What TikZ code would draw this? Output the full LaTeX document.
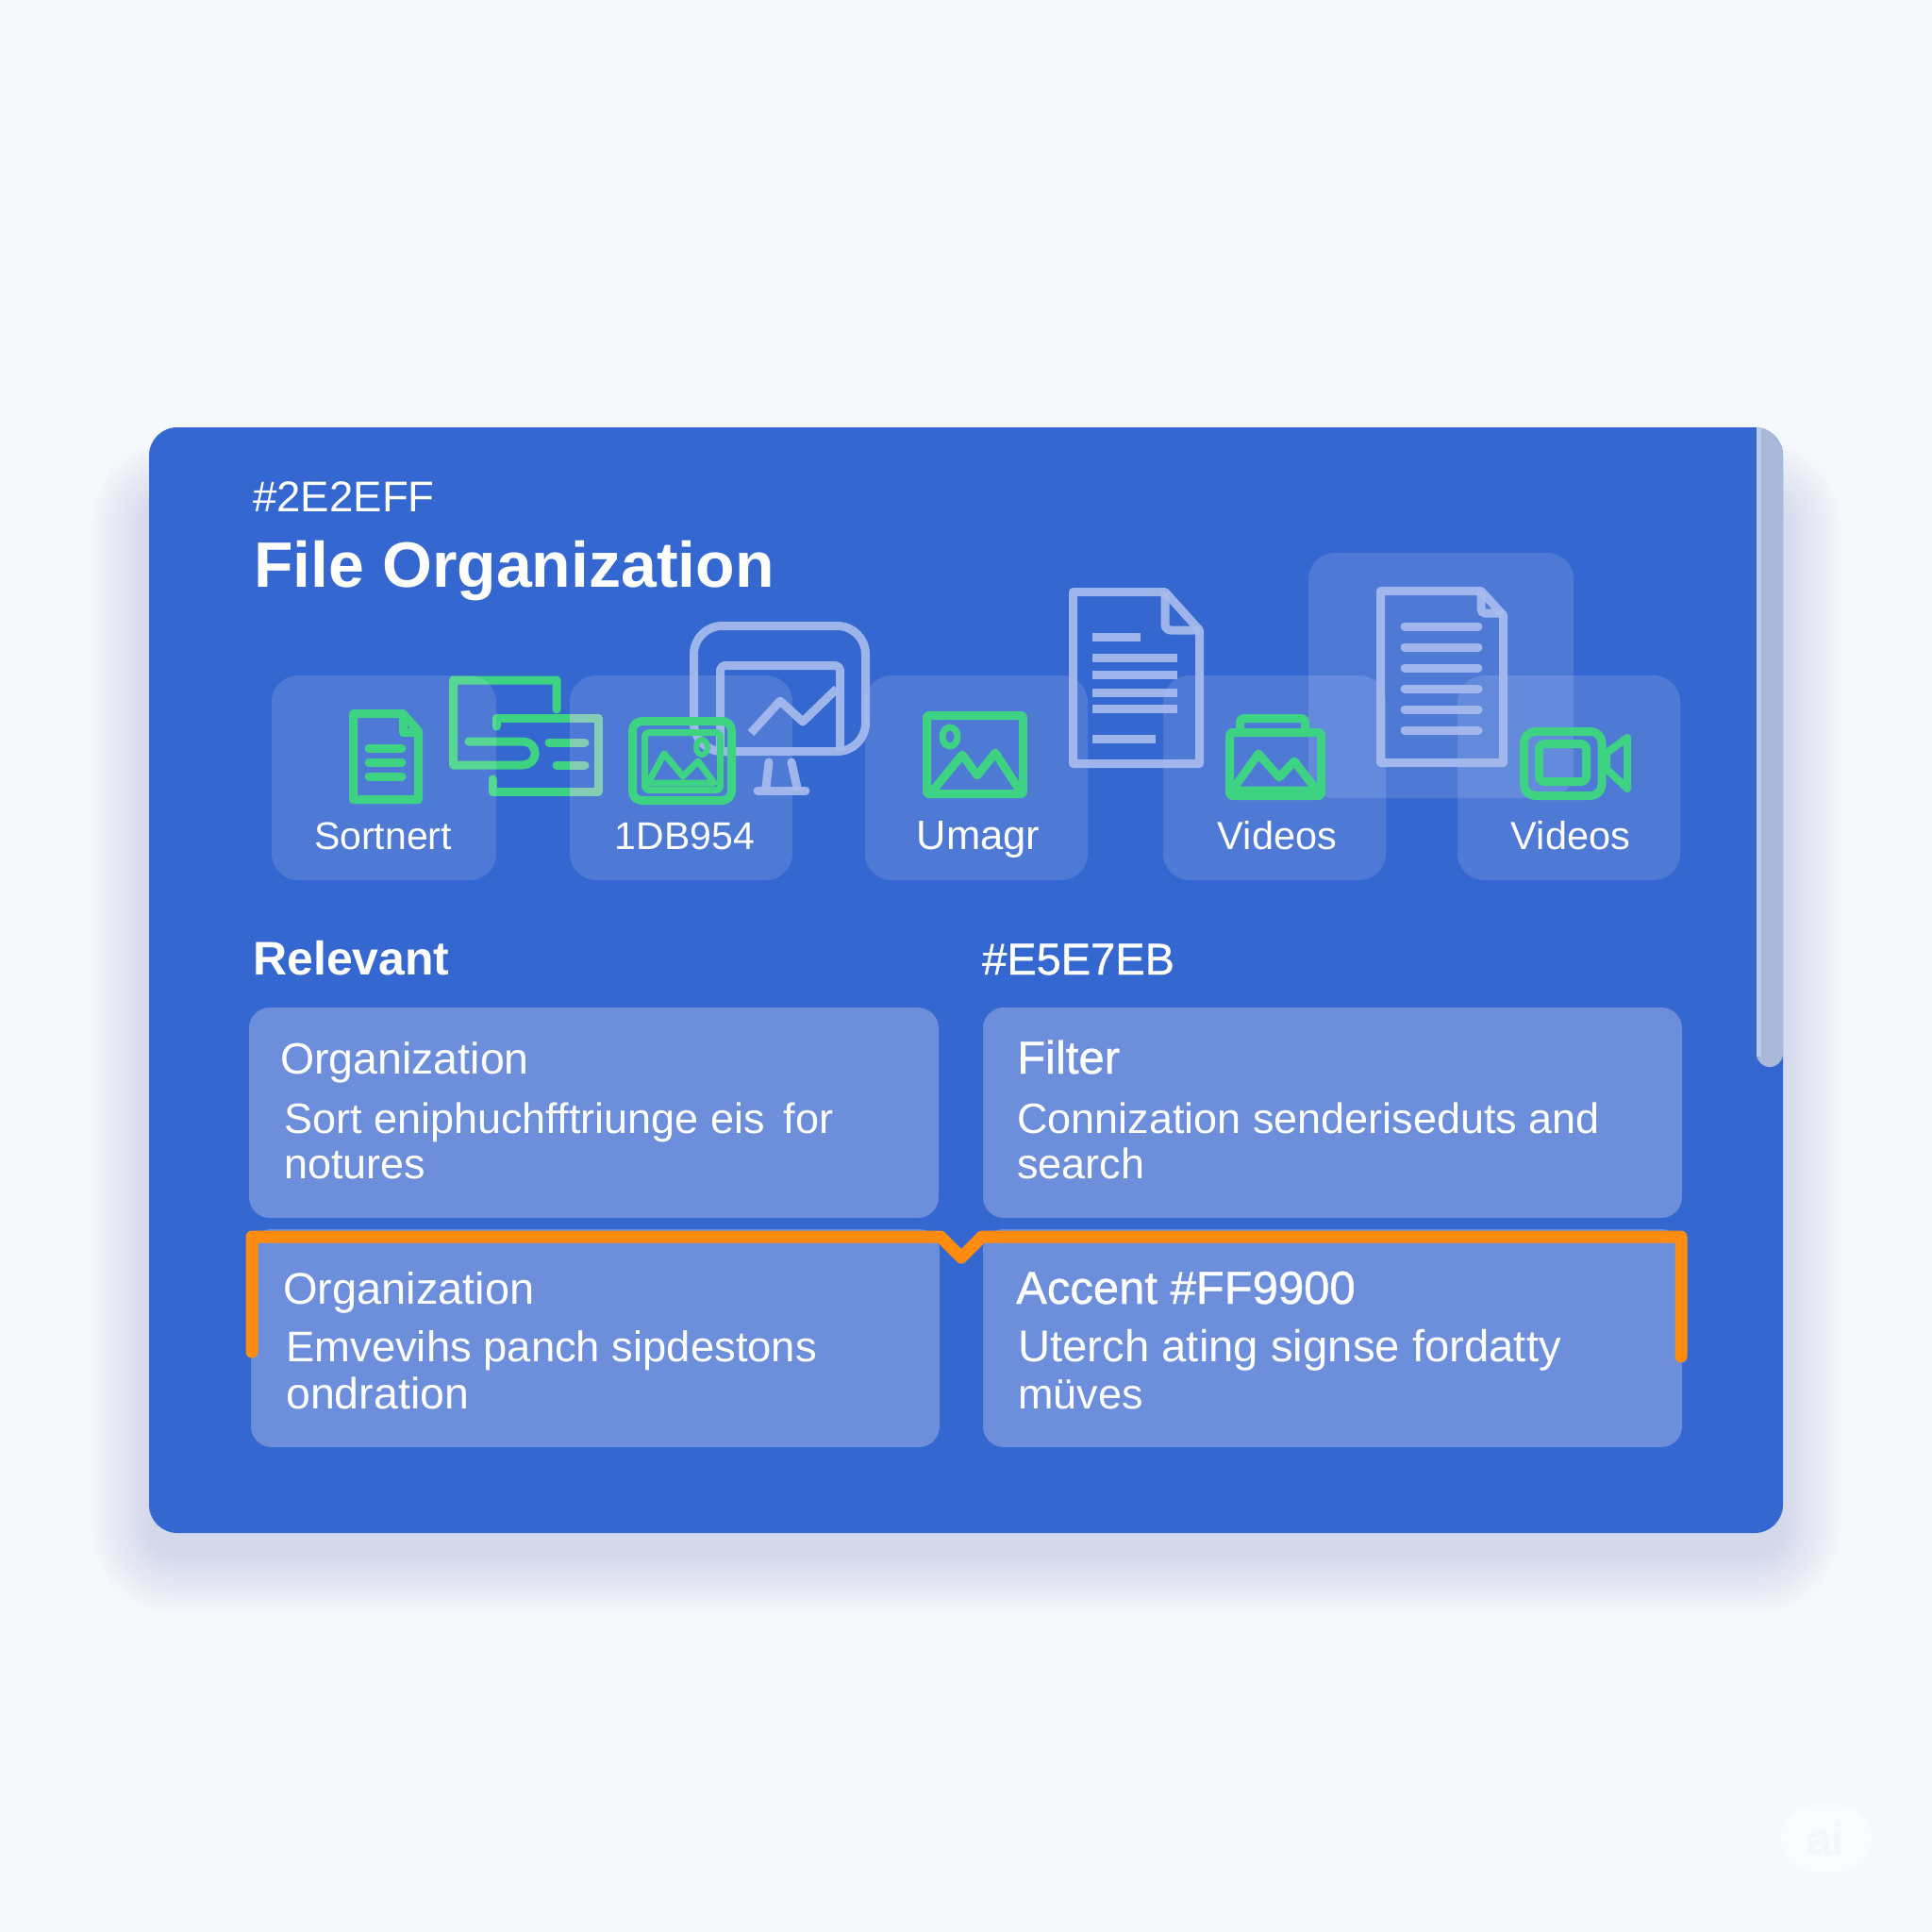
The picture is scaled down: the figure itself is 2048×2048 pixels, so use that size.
\documentclass[tikz,border=0pt]{standalone}
\usepackage{fontspec}
\setmainfont{Liberation Sans}
\newfontfamily\medfont[FakeBold=0.8]{Liberation Sans}
\definecolor{pagebg}{HTML}{F6F9FC}
\definecolor{cardblue}{HTML}{3467D0}
\definecolor{stripc}{HTML}{AAB9DA}
\definecolor{stripl}{HTML}{BCCAEC}
\definecolor{panelc}{HTML}{6D8FDB}
\definecolor{greenc}{HTML}{3ED283}
\definecolor{greenf}{HTML}{72C5A8}
\definecolor{lilac}{HTML}{A8BCEE}
\definecolor{orangec}{HTML}{FF8C0F}
\definecolor{shadowc}{HTML}{3F5A8A}
\definecolor{wmpill}{HTML}{F9FBFD}
\definecolor{wmtext}{HTML}{F3F7FA}
\tikzset{
  x=1pt,y=-1pt,
  tile/.style={fill=white,fill opacity=.13,rounded corners=28pt},
  gline/.style={draw=greenc,line width=9pt,line join=round,line cap=round},
  lline/.style={draw=lilac,line width=9pt,line join=round,draw opacity=.92},
  lbar/.style={draw=lilac,line width=9pt,line cap=round,draw opacity=.92},
  panel/.style={fill=panelc,rounded corners=22pt},
  lab/.style={anchor=base,inner sep=0pt,text=white,font=\fontsize{41}{44}\selectfont},
  ttl/.style={anchor=base west,inner sep=0pt,text=white,font=\fontsize{46.5}{50}\selectfont},
  ttm/.style={anchor=base west,inner sep=0pt,text=white,font=\medfont\fontsize{49}{52}\selectfont},
  bdy/.style={anchor=base west,inner sep=0pt,text=white,font=\fontsize{45}{50}\selectfont},
}
\newcommand{\iconBpath}[1]{%
  \draw[gline,draw=#1] (590,752) -- (590,721) -- (480.5,721) -- (480.5,811) -- (553,811)
     .. controls (572,811) and (572,786) .. (553,786) -- (497,786);
  \draw[gline,draw=#1] (526,770) -- (526,761) -- (634,761) -- (634,839) -- (522,839) -- (522,826);
  \draw[gline,draw=#1] (582,787) -- (620,787);
  \draw[gline,draw=#1] (590,811) -- (620,811);
}
\begin{document}
\begin{tikzpicture}
\useasboundingbox (0,0) rectangle (2048,2048);
\fill[pagebg] (0,0) rectangle (2048,2048);
% watermark
\fill[wmpill,rounded corners=35pt] (1888,1913) rectangle (1984,1984);
\node[anchor=base,inner sep=0pt,text=wmtext,font=\bfseries\fontsize{48}{52}\selectfont] (wm) at (1935,1966) {ai};
% soft shadow
\foreach \e in {0,4,...,64}{
  \fill[shadowc,fill opacity=.0065,rounded corners=30pt+\e pt]
    (158-\e,453+75-\e) rectangle (1890+\e,1625+24+\e);
}
% card
\fill[cardblue,rounded corners=30pt] (158,453) rectangle (1890,1625);
% scroll strip
\begin{scope}
  \clip[rounded corners=30pt] (158,453) rectangle (1890,1625);
  \fill[stripc,rounded corners=14pt] (1862,420) rectangle (1890,1131);
  \fill[stripl] (1862,453) rectangle (1867,1120);
\end{scope}
% faded green icon parts, under tiles
\begin{scope}
  \clip (400,700) rectangle (604,860);
  \iconBpath{greenc}
\end{scope}
\begin{scope}
  \clip (604,700) rectangle (660,860);
  \iconBpath{greenf}
\end{scope}
% tiles
\fill[tile] (1387,586) rectangle (1668,846);
\fill[tile] (288,716) rectangle (526,933);
\fill[tile] (604,716) rectangle (840,933);
\fill[tile] (917,716) rectangle (1153,933);
\fill[tile] (1233,716) rectangle (1469,933);
\fill[tile] (1545,716) rectangle (1781,933);
% monitor
\draw[lline,rounded corners=30pt] (735.5,663.5) rectangle (917.5,796.5);
\draw[lline,rounded corners=5pt] (763.5,796) -- (763.5,705.5) -- (890.5,705.5) -- (890.5,796);
\draw[lline,line cap=butt] (796,777) -- (827,743) -- (851,765) -- (887,730);
\draw[lline,line cap=round] (815,808) -- (812,835);
\draw[lline,line cap=round] (839,808) -- (845,835);
\draw[lbar] (803,838) -- (854,838);
% doc 1
\draw[lline] (1137.5,627.5) -- (1235,627.5) -- (1271.5,668) -- (1271.5,809.5) -- (1137.5,809.5) -- cycle;
\draw[lline,rounded corners=6pt] (1235,627.5) -- (1235,668) -- (1271.5,668);
\draw[lbar,line cap=butt] (1158,675) -- (1209,675);
\foreach \yy in {697,715,734,751}{\draw[lbar,line cap=butt] (1158,\yy) -- (1248,\yy);}
\draw[lbar,line cap=butt] (1158,783) -- (1225,783);
% doc 2
\draw[lline] (1463.5,626.5) -- (1570,626.5) -- (1593.5,652) -- (1593.5,808.5) -- (1463.5,808.5) -- cycle;
\draw[lline,rounded corners=4pt] (1570,626.5) -- (1570,650) -- (1593.5,650);
\foreach \yy in {664,686,708,730,752,774}{\draw[lbar] (1489,\yy) -- (1567,\yy);}
% green doc
\draw[gline] (374.5,756.5) -- (427,756.5) -- (443.5,775) -- (443.5,847.5) -- (374.5,847.5) -- cycle;
\draw[gline] (427,756.5) -- (427,776) -- (443.5,776);
\foreach \yy in {793,808,823}{\draw[gline] (391,\yy) -- (426,\yy);}
% green picture in frame
\draw[gline,rounded corners=10pt] (670.5,764.5) rectangle (775.5,848.5);
\draw[gline,line width=7pt,rounded corners=4pt] (683.5,776.5) rectangle (763.5,837.5);
\draw[gline,line width=7pt] (687,830) -- (704,799) -- (724,823) -- (740,807) -- (757,830) -- cycle;
\draw[gline,line width=6pt] (744,792) ellipse [x radius=6pt,y radius=8pt];
% green picture
\draw[gline,rounded corners=2pt] (982.5,758.5) rectangle (1084.5,841.5);
\draw[gline] (989,838) -- (1020,800) -- (1036,822) -- (1055,798) -- (1081,838);
\draw[gline,line width=7pt] (1007,781) ellipse [x radius=8pt,y radius=10pt];
% green album
\draw[gline,rounded corners=3pt] (1303.5,776.5) rectangle (1400.5,843.5);
\draw[gline,rounded corners=4pt] (1314.5,775) -- (1314.5,761.5) -- (1383.5,761.5) -- (1383.5,775);
\draw[gline] (1306,838) -- (1334,799) -- (1356,824) -- (1372,807) -- (1396,838) -- cycle;
% green camera
\draw[gline,rounded corners=12pt] (1615.5,775.5) rectangle (1698,843.5);
\draw[gline,rounded corners=5pt] (1631.5,788.5) rectangle (1681.5,828.5);
\draw[gline,line width=8pt] (1703,798) -- (1725,782) -- (1725,836) -- (1703,815) -- cycle;
% headings
\node[anchor=base west,inner sep=0pt,text=white,font=\fontsize{45.6}{50}\selectfont] (hexa) at (268,542) {\#2E2EFF};
\node[anchor=base west,inner sep=0pt,text=white,font=\bfseries\fontsize{68}{72}\selectfont] (title) at (269,622) {File Organization};
\node[anchor=base west,inner sep=0pt,text=white,font=\bfseries\fontsize{50}{54}\selectfont] (relev) at (268,1033) {Relevant};
\node[anchor=base west,inner sep=0pt,text=white,font=\medfont\fontsize{47}{52}\selectfont] (hexb) at (1041,1033) {\#E5E7EB};
% tile labels
\node[lab] (l1) at (406,900) {Sortnert};
\node[lab] (l2) at (726,900) {1DB954};
\node[lab,font=\fontsize{43.5}{46}\selectfont] (l3) at (1037,900) {Umagr};
\node[lab,font=\fontsize{41.5}{46}\selectfont] (l4) at (1354,900) {Videos};
\node[lab,font=\fontsize{41.5}{46}\selectfont] (l5) at (1665,900) {Videos};
% panels
\fill[panel] (264,1068) rectangle (995,1291);
\fill[panel] (1042,1068) rectangle (1783,1291);
\fill[panel] (266,1303) rectangle (996,1534);
\fill[panel] (1042,1303) rectangle (1783,1534);
% accent line
\coordinate (oa) at (267,1433);
\coordinate (ob) at (1782,1438);
\draw[orangec,line width=13pt,line cap=round,line join=round]
  (oa) -- (267,1311) -- (997,1311) -- (1019,1333) -- (1041,1311) -- (1782,1311) -- (ob);
% panel text
\node[ttl] (t1) at (297,1138) {Organization};
\node[bdy] (b1a) at (301,1201) {Sort eniphuchfftriunge eis\, for};
\node[bdy] (b1b) at (301,1249) {notures};
\node[ttm] (t2) at (1078,1138) {Filter};
\node[bdy] (b2a) at (1078,1201) {Connization senderiseduts and};
\node[bdy] (b2b) at (1078,1249) {search};
\node[ttl,font=\fontsize{47}{50}\selectfont] (t3) at (300,1382) {Organization};
\node[bdy,font=\fontsize{45.4}{50}\selectfont] (b3a) at (303,1443) {Emvevihs panch sipdestons};
\node[bdy,font=\fontsize{46.5}{50}\selectfont] (b3b) at (303,1493) {ondration};
\node[ttm] (t4) at (1077,1382) {Accent \#FF9900};
\node[bdy,font=\fontsize{47.3}{50}\selectfont] (b4a) at (1079,1443) {Uterch ating signse fordatty};
\node[bdy] (b4b) at (1079,1493) {müves};
\end{tikzpicture}
\end{document}
